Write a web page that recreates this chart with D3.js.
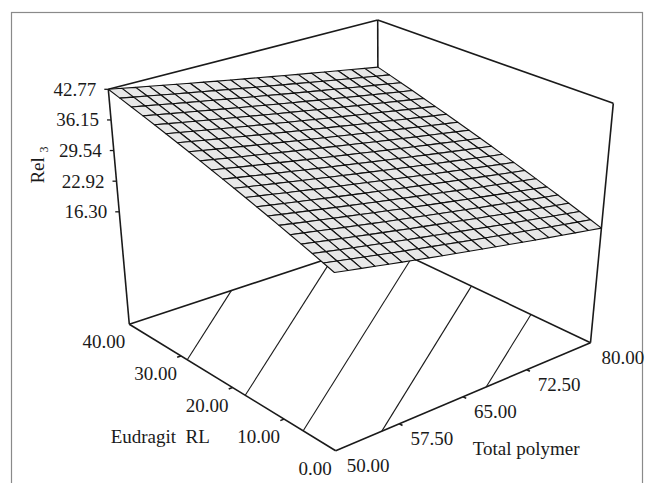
<!DOCTYPE html>
<html><head><meta charset="utf-8">
<script src="https://cdn.jsdelivr.net/npm/d3@7"></script>
<style>
html,body{margin:0;padding:0;background:#fff;}
</style>
</head><body><svg id="chart" width="653" height="483"></svg>
<script>
// ---- data ----
const eudragitTicks = [0, 10, 20, 30, 40];
const totalPolymerTicks = [50, 57.5, 65, 72.5, 80];
const rel3Ticks = [16.30, 22.92, 29.54, 36.15, 42.77];
const contourLevels = [20.71, 25.12, 29.54, 33.95, 38.36];
// fitted linear model in coded units: Rel3 = b0 + bA*A + bB*B
const rel3Coefficients = [29.535, 7.85, -5.385];
const eudragitDomain = [0, 40];
const totalPolymerDomain = [50, 80];
const rel3Domain = [-8, 42.77];
const gridCount = 20;

// ---- projection (screen position of the unit box corners) ----
// corner keys: F=(E min,T min) L=(E max,T min) R=(E min,T max) B=(E max,T max)
const view = {
  floor: {F:[335.7,450.7], L:[129.3,324.3], R:[590.5,342.7], B:[378.5,242]},
  top:   {F:[333.8,192.7], L:[108.3,89.3],  R:[613.3,103.3], B:[377.7,20]}
};

const su = d3.scaleLinear().domain(eudragitDomain).range([0,1]);
const sv = d3.scaleLinear().domain(totalPolymerDomain).range([0,1]);
const sw = d3.scaleLinear().domain(rel3Domain).range([0,1]);
const codeA = d3.scaleLinear().domain(eudragitDomain).range([-1,1]);
const codeB = d3.scaleLinear().domain(totalPolymerDomain).range([-1,1]);

function bil(c,u,v){
  const k=[(1-u)*(1-v),u*(1-v),(1-u)*v,u*v];
  return [c.F[0]*k[0]+c.L[0]*k[1]+c.R[0]*k[2]+c.B[0]*k[3],
          c.F[1]*k[0]+c.L[1]*k[1]+c.R[1]*k[2]+c.B[1]*k[3]];
}
function project(E,T,Z){
  const u=su(E), v=sv(T), w=sw(Z);
  const p0=bil(view.floor,u,v), p1=bil(view.top,u,v);
  return [p0[0]+w*(p1[0]-p0[0]), p0[1]+w*(p1[1]-p0[1])];
}
function rel3(E,T){
  const [b0,bA,bB]=rel3Coefficients;
  return b0+bA*codeA(E)+bB*codeB(T);
}

const svg=d3.select("#chart");
const line=d3.line();
const [E0,E1]=eudragitDomain, [T0,T1]=totalPolymerDomain, [Z0,Z1]=rel3Domain;
const FONT="'Liberation Serif','Times New Roman',Times,'Nimbus Roman','Nimbus Roman No9 L',FreeSerif,'Noto Serif','DejaVu Serif',Tinos,serif";

// frame
svg.append("rect").attr("x",11.5).attr("y",12.5).attr("width",631).attr("height",480)
  .attr("fill","none").attr("stroke","#8a8a8a").attr("stroke-width",1.2);

const g=svg.append("g");
const boxStroke={stroke:"#1a1a1a","stroke-width":1.6,fill:"none"};
function seg(a,b,attrs){
  const p=g.append("path").attr("d",line([a,b]));
  Object.entries(attrs).forEach(([k,v])=>p.attr(k,v));
  return p;
}
function label(x,y,anchor,txt){
  return g.append("text").attr("x",x).attr("y",y).attr("text-anchor",anchor)
    .style("font-family",FONT).attr("font-size",19).attr("fill","#1a1a1a").text(txt);
}
// floor edges
seg(project(E1,T0,Z0),project(E0,T0,Z0),boxStroke);
seg(project(E0,T0,Z0),project(E0,T1,Z0),boxStroke);
seg(project(E1,T0,Z0),project(E1,T1,Z0),boxStroke);
seg(project(E1,T1,Z0),project(E0,T1,Z0),boxStroke);
// verticals
seg(project(E1,T0,Z0),project(E1,T0,Z1),boxStroke);
seg(project(E0,T1,Z0),project(E0,T1,Z1),boxStroke);
seg(project(E1,T1,Z0),project(E1,T1,Z1),boxStroke);
// top back edges
seg(project(E1,T0,Z1),project(E1,T1,Z1),boxStroke);
seg(project(E1,T1,Z1),project(E0,T1,Z1),boxStroke);

// floor contours
const thin={stroke:"#1a1a1a","stroke-width":1.1,fill:"none"};
const edges=[[[E0,T0],[E1,T0]],[[E1,T0],[E1,T1]],[[E1,T1],[E0,T1]],[[E0,T1],[E0,T0]]];
contourLevels.forEach(lv=>{
  const pts=[];
  edges.forEach(([a,b])=>{
    const za=rel3(a[0],a[1]), zb=rel3(b[0],b[1]);
    if((za-lv)*(zb-lv)<=0 && za!==zb){
      const t=(lv-za)/(zb-za);
      pts.push([a[0]+t*(b[0]-a[0]), a[1]+t*(b[1]-a[1])]);
    }
  });
  if(pts.length>=2) seg(project(pts[0][0],pts[0][1],Z0),project(pts[1][0],pts[1][1],Z0),thin);
});

// ticks and labels
const fmt=d3.format(".2f");
rel3Ticks.forEach(z=>{
  const p=project(E1,T0,z);
  seg(p,[p[0]-4,p[1]],{stroke:"#1a1a1a","stroke-width":1.3});
  label(p[0]-12,p[1]+6.5,"end",fmt(z));
});
eudragitTicks.forEach(e=>{
  const p=project(e,T0,Z0);
  if(e>E0&&e<E1) seg(p,project(e,T0-0.45,Z0),{stroke:"#1a1a1a","stroke-width":1.6});
  label(p[0]-4,p[1]+24,"end",fmt(e));
});
totalPolymerTicks.forEach(t=>{
  const p=project(E0,t,Z0);
  if(t>T0&&t<T1) seg(p,project(E0-0.6,t,Z0),{stroke:"#1a1a1a","stroke-width":1.6});
  label(p[0]+11,p[1]+21.5,"start",fmt(t));
});
// axis titles
label(110.7,443.3,"start","Eudragit\u00a0\u00a0RL");
label(472.7,455,"start","Total polymer");
const zt=g.append("text").attr("transform","translate(44,165) rotate(-90)")
  .attr("text-anchor","middle").style("font-family",FONT).attr("font-size",19).attr("fill","#1a1a1a");
zt.append("tspan").text("Rel ");
zt.append("tspan").attr("font-size",12).attr("dy",4).text("3");

// surface
const eStep=(E1-E0)/gridCount, tStep=(T1-T0)/gridCount;
const cells=[];
for(let i=0;i<gridCount;i++)for(let j=0;j<gridCount;j++){
  const ea=E0+i*eStep, eb=ea+eStep, ta=T0+j*tStep, tb=ta+tStep;
  cells.push([[ea,ta],[eb,ta],[eb,tb],[ea,tb]]);
}
cells.sort((a,b)=>(b[0][0]/40+b[0][1]/30)-(a[0][0]/40+a[0][1]/30));
g.append("g").selectAll("path").data(cells).join("path")
  .attr("d",c=>line(c.map(([e,t])=>project(e,t,rel3(e,t))))+"Z")
  .attr("fill","#e8e8e8").attr("stroke","#111").attr("stroke-width",1.1)
  .attr("stroke-linejoin","round");
</script>
</body></html>
